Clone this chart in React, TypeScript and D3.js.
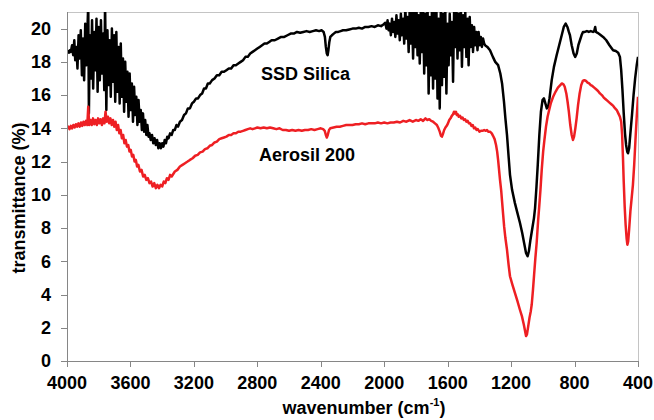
import React from "react";
import * as d3 from "d3";

// ---------- DATA ----------
const xTicks = [4000, 3600, 3200, 2800, 2400, 2000, 1600, 1200, 800, 400];
const yTicks = [0, 2, 4, 6, 8, 10, 12, 14, 16, 18, 20];
const seriesNames = ["SSD Silica", "Aerosil 200"];
const xTitle = "wavenumber (cm";
const yTitle = "transmittance (%)";

// SSD Silica: [wavenumber (cm-1), transmittance (%)]
const ssdSilica: [number, number][] = [
  [4000, 18.6], [3994, 18.65], [3988, 18.55], [3982, 18.7], [3976, 18.6],
  [3968, 19.0], [3961, 18.4], [3954, 19.3], [3948, 18.1], [3941, 18.9], [3934, 17.6],
  [3927, 19.6], [3920, 18.2], [3913, 19.9], [3906, 17.2], [3899, 19.4], [3892, 16.9],
  [3885, 20.3], [3878, 17.8], [3871, 20.0], [3866, 21.5], [3862, 14.9], [3856, 19.6],
  [3849, 17.0], [3842, 20.5], [3835, 16.4], [3828, 19.8], [3821, 17.5], [3814, 20.6],
  [3807, 16.2], [3800, 20.1], [3793, 16.9], [3786, 20.5], [3779, 17.3], [3772, 19.7],
  [3765, 16.3], [3760, 21.5], [3752, 15.1], [3745, 19.9], [3738, 16.6], [3731, 19.3],
  [3724, 15.9], [3717, 20.0], [3710, 16.8], [3703, 19.6], [3696, 15.6], [3689, 19.8],
  [3682, 16.2], [3675, 18.9], [3668, 15.5], [3661, 19.1], [3654, 15.9], [3647, 18.2],
  [3640, 15.0], [3633, 18.0], [3626, 15.6], [3619, 17.4], [3612, 14.7], [3605, 17.3],
  [3598, 15.1], [3591, 16.7], [3584, 14.4], [3577, 16.5], [3570, 14.8], [3563, 15.9],
  [3556, 14.2], [3549, 15.7], [3542, 14.4], [3535, 15.1], [3528, 13.9], [3521, 14.9],
  [3514, 13.8], [3507, 14.5], [3500, 13.6], [3493, 14.2], [3486, 13.5],
  [3480, 13.7], [3472, 13.3], [3464, 13.6], [3456, 13.1], [3448, 13.4], [3440, 13.0],
  [3432, 13.3], [3424, 12.8], [3416, 13.1], [3408, 12.8], [3400, 13.1], [3392, 12.9],
  [3384, 13.3], [3376, 13.1], [3368, 13.5], [3360, 13.4], [3350, 13.7], [3340, 13.6],
  [3330, 13.9], [3320, 13.9], [3310, 14.2], [3300, 14.1], [3288, 14.4], [3275, 14.5],
  [3262, 14.8], [3250, 14.9], [3238, 15.2], [3225, 15.2], [3212, 15.5], [3200, 15.6],
  [3186, 15.8], [3174, 15.8], [3161, 16.0], [3148, 16.1], [3136, 16.4], [3124, 16.4],
  [3112, 16.7], [3100, 16.7], [3085, 16.9], [3070, 17.0], [3055, 17.2], [3040, 17.2],
  [3025, 17.4], [3010, 17.4], [2995, 17.5], [2980, 17.6], [2965, 17.6], [2950, 17.8],
  [2935, 17.8], [2920, 17.9], [2905, 18.0], [2890, 18.1], [2875, 18.3], [2860, 18.3],
  [2845, 18.5], [2830, 18.6], [2815, 18.7], [2800, 18.8], [2785, 18.9], [2770, 19.0],
  [2755, 19.1], [2740, 19.1], [2725, 19.2], [2710, 19.3], [2690, 19.3], [2670, 19.4],
  [2650, 19.5], [2630, 19.5], [2610, 19.6], [2590, 19.7], [2570, 19.7], [2550, 19.8],
  [2530, 19.75], [2510, 19.8], [2490, 19.85], [2470, 19.8], [2450, 19.85], [2430, 19.9],
  [2410, 19.85], [2395, 19.9], [2382, 19.8], [2374, 19.5], [2368, 18.9], [2362, 18.5],
  [2357, 18.4], [2352, 18.7], [2346, 19.2], [2340, 19.5], [2330, 19.6], [2318, 19.7],
  [2305, 19.8], [2290, 19.8], [2275, 19.85], [2260, 19.9], [2240, 19.9], [2220, 19.95],
  [2200, 20.0], [2180, 20.0], [2160, 20.05], [2140, 20.0], [2120, 20.1], [2100, 20.1],
  [2080, 20.15], [2060, 20.1], [2040, 20.2], [2020, 20.15], [2005, 20.25],
  [1993, 20.35], [1986, 20.0], [1979, 20.5], [1972, 19.9], [1965, 20.3], [1958, 19.6],
  [1951, 20.6], [1944, 19.8], [1937, 20.4], [1930, 19.5], [1923, 20.8], [1916, 19.7],
  [1909, 20.5], [1902, 19.3], [1895, 20.9], [1888, 19.6], [1881, 20.6], [1874, 19.1],
  [1867, 21.3], [1860, 19.4], [1853, 20.7], [1846, 18.6], [1839, 21.4], [1832, 19.1],
  [1825, 21.0], [1818, 18.2], [1811, 21.3], [1804, 18.9], [1797, 21.4], [1790, 18.4],
  [1783, 20.8], [1776, 17.9], [1769, 21.3], [1762, 18.6], [1755, 21.4], [1748, 17.3],
  [1741, 20.9], [1734, 17.8], [1727, 21.5], [1720, 16.1], [1713, 20.7], [1706, 17.2],
  [1699, 21.3], [1692, 16.4], [1685, 21.0], [1678, 17.0], [1671, 21.2], [1664, 15.8],
  [1657, 20.6], [1650, 15.2], [1643, 21.3], [1636, 16.6], [1629, 20.9], [1622, 17.1],
  [1615, 21.2], [1608, 16.1], [1601, 20.3], [1594, 17.8], [1587, 20.9], [1580, 18.4],
  [1573, 20.4], [1566, 16.8], [1559, 21.3], [1552, 18.9], [1545, 21.4], [1538, 18.2],
  [1531, 20.9], [1524, 18.7], [1517, 21.3], [1510, 17.7], [1503, 20.8], [1496, 18.9],
  [1489, 21.0], [1482, 18.3], [1475, 20.6], [1468, 17.8], [1461, 20.7], [1454, 18.9],
  [1447, 20.2], [1440, 18.6], [1433, 20.1], [1426, 19.0], [1419, 19.8], [1412, 18.7],
  [1405, 19.8], [1398, 19.0], [1391, 19.5], [1384, 18.9], [1377, 19.4], [1370, 19.1],
  [1364, 19.0], [1350, 18.9], [1333, 18.7], [1315, 18.3], [1300, 18.0], [1282, 17.8],
  [1268, 17.3], [1257, 16.7], [1245, 15.6], [1236, 14.6], [1226, 13.6], [1215, 12.2],
  [1207, 11.2], [1194, 10.3], [1176, 9.5], [1160, 8.9], [1144, 8.3], [1130, 7.7],
  [1118, 7.1], [1106, 6.5], [1096, 6.3], [1088, 6.6], [1078, 7.3], [1066, 8.0],
  [1056, 8.6], [1049, 9.2], [1040, 10.5], [1032, 11.8], [1022, 13.6], [1012, 15.0],
  [1002, 15.7], [993, 15.8], [984, 15.5], [975, 15.2], [966, 15.3], [958, 15.8],
  [944, 16.9], [930, 17.7], [913, 18.4], [897, 19.0], [881, 19.6], [868, 20.1],
  [856, 20.3], [845, 20.1], [836, 19.8], [829, 19.6], [818, 19.0], [806, 18.5],
  [796, 18.3], [786, 18.5], [776, 19.0], [766, 19.3], [756, 19.6], [747, 19.8],
  [735, 19.8], [722, 19.85], [710, 19.8], [698, 19.85], [684, 19.8], [676, 19.85],
  [670, 20.1], [665, 19.8], [655, 19.75], [640, 19.65], [620, 19.5], [600, 19.3],
  [580, 19.0], [557, 18.7], [540, 18.65], [525, 18.55], [514, 18.3], [506, 17.5],
  [498, 16.3], [490, 14.9], [482, 13.7], [475, 13.0], [468, 12.6], [463, 12.5],
  [456, 12.8], [448, 13.7], [438, 14.8], [428, 16.0], [418, 17.0], [408, 17.8],
  [400, 18.3],
];

// Aerosil 200: [wavenumber (cm-1), transmittance (%)]
const aerosil200: [number, number][] = [
  [4000, 14.0], [3992, 14.1], [3984, 13.95], [3976, 14.15], [3968, 14.0], [3960, 14.2],
  [3952, 14.05], [3944, 14.25], [3936, 14.1], [3928, 14.3], [3920, 14.1], [3912, 14.35],
  [3904, 14.15], [3896, 14.4], [3888, 14.2], [3880, 14.45], [3872, 14.2], [3866, 15.3],
  [3860, 14.2], [3852, 14.5], [3844, 14.2], [3836, 14.6], [3828, 14.25], [3820, 14.5],
  [3812, 14.2], [3804, 14.6], [3796, 14.3], [3788, 14.55], [3780, 14.2], [3772, 14.6],
  [3764, 14.3], [3757, 15.0], [3750, 14.4], [3742, 14.7], [3734, 14.3], [3726, 14.6],
  [3718, 14.2], [3710, 14.5], [3702, 14.1], [3694, 14.4], [3686, 13.9], [3678, 14.2],
  [3670, 13.7], [3662, 13.9], [3654, 13.4], [3646, 13.6], [3638, 13.1], [3630, 13.3],
  [3622, 12.9], [3614, 13.0], [3606, 12.6], [3598, 12.7], [3590, 12.3], [3582, 12.4],
  [3574, 12.0], [3566, 12.1], [3558, 11.7], [3550, 11.8], [3540, 11.4], [3530, 11.5],
  [3520, 11.1], [3510, 11.2], [3500, 10.9], [3490, 11.0], [3480, 10.7], [3470, 10.8],
  [3460, 10.5], [3450, 10.7], [3440, 10.4], [3430, 10.6], [3420, 10.4], [3410, 10.6],
  [3400, 10.5], [3390, 10.8], [3380, 10.7], [3370, 11.0], [3360, 10.9], [3350, 11.2],
  [3340, 11.1], [3320, 11.4], [3304, 11.5], [3288, 11.7], [3272, 11.8], [3256, 11.9],
  [3240, 12.0], [3225, 12.1], [3208, 12.2], [3192, 12.35], [3176, 12.4], [3161, 12.55],
  [3145, 12.6], [3130, 12.75], [3115, 12.8], [3100, 12.95], [3085, 13.0], [3070, 13.15],
  [3055, 13.2], [3040, 13.35], [3025, 13.4], [3010, 13.45], [2995, 13.5], [2980, 13.6],
  [2965, 13.6], [2950, 13.7], [2935, 13.7], [2920, 13.8], [2905, 13.8], [2890, 13.85],
  [2875, 13.9], [2860, 13.95], [2845, 14.0], [2830, 13.95], [2815, 14.0], [2800, 14.05],
  [2780, 14.0], [2760, 14.05], [2740, 14.0], [2720, 14.05], [2700, 14.0], [2680, 13.95],
  [2660, 14.0], [2640, 13.9], [2620, 13.9], [2600, 13.85], [2580, 13.9], [2560, 13.85],
  [2540, 13.9], [2520, 13.85], [2500, 13.9], [2480, 13.9], [2460, 13.95], [2440, 13.9],
  [2420, 13.95], [2400, 14.0], [2385, 13.95], [2375, 13.85], [2368, 13.6], [2362, 13.45],
  [2356, 13.6], [2348, 13.9], [2340, 14.0], [2320, 14.05], [2300, 14.1], [2280, 14.1],
  [2260, 14.15], [2240, 14.2], [2220, 14.2], [2200, 14.2], [2180, 14.25], [2160, 14.25],
  [2140, 14.3], [2120, 14.25], [2100, 14.3], [2080, 14.3], [2060, 14.3], [2040, 14.35],
  [2020, 14.3], [2000, 14.35], [1980, 14.3], [1960, 14.35], [1940, 14.35], [1920, 14.4],
  [1900, 14.35], [1880, 14.45], [1860, 14.4], [1840, 14.5], [1820, 14.4], [1800, 14.5],
  [1785, 14.45], [1770, 14.55], [1755, 14.45], [1740, 14.6], [1728, 14.5], [1716, 14.55],
  [1704, 14.45], [1692, 14.4], [1680, 14.3], [1668, 14.2], [1658, 14.0], [1650, 13.8],
  [1642, 13.55], [1636, 13.5], [1630, 13.65], [1622, 13.9], [1614, 14.05], [1606, 14.15],
  [1598, 14.3], [1590, 14.5], [1582, 14.6], [1574, 14.75], [1566, 14.85], [1560, 15.0],
  [1554, 14.9], [1548, 15.0], [1542, 14.8], [1536, 14.85], [1530, 14.7], [1522, 14.75],
  [1514, 14.6], [1506, 14.65], [1498, 14.5], [1490, 14.55], [1482, 14.4], [1474, 14.45],
  [1466, 14.3], [1458, 14.3], [1450, 14.15], [1442, 14.2], [1434, 14.0], [1426, 14.05],
  [1418, 13.9], [1410, 13.95], [1400, 13.8], [1390, 13.85], [1380, 13.85], [1370, 13.9],
  [1360, 13.85], [1352, 13.9], [1344, 13.8], [1333, 13.8], [1322, 13.7], [1314, 13.55],
  [1304, 13.35], [1295, 13.0], [1288, 12.6], [1282, 12.1], [1276, 11.5], [1270, 10.9],
  [1262, 10.2], [1257, 9.6], [1251, 8.9], [1244, 8.1], [1236, 7.4], [1226, 6.7],
  [1216, 5.8], [1207, 5.1], [1192, 4.6], [1176, 4.1], [1160, 3.6], [1145, 3.1],
  [1132, 2.7], [1120, 2.2], [1112, 1.8], [1106, 1.5], [1100, 1.6], [1092, 2.1],
  [1084, 2.6], [1076, 3.0], [1070, 3.4], [1062, 4.3], [1055, 5.2], [1047, 6.2],
  [1039, 7.1], [1030, 8.4], [1022, 9.4], [1015, 10.3], [1007, 11.5], [998, 12.6],
  [990, 13.3], [980, 14.1], [970, 14.7], [960, 15.1], [950, 15.5], [935, 15.9],
  [920, 16.2], [905, 16.45], [890, 16.6], [880, 16.7], [870, 16.65], [862, 16.5],
  [852, 16.1], [844, 15.6], [836, 15.0], [827, 14.2], [818, 13.6], [810, 13.3],
  [803, 13.5], [795, 14.0], [787, 14.6], [778, 15.4], [768, 16.1], [758, 16.6],
  [748, 16.85], [738, 16.9], [728, 16.85], [718, 16.75], [708, 16.7], [698, 16.6],
  [688, 16.55], [676, 16.45], [664, 16.35], [652, 16.25], [640, 16.1], [628, 16.0],
  [616, 15.85], [604, 15.75], [592, 15.65], [580, 15.55], [568, 15.45], [556, 15.35],
  [544, 15.2], [534, 15.1], [524, 14.9], [514, 14.7], [506, 14.4], [500, 13.6],
  [495, 12.3], [490, 10.8], [484, 9.3], [478, 8.2], [472, 7.4], [467, 7.0],
  [462, 7.2], [456, 7.9], [448, 9.0], [440, 9.8], [432, 10.6], [424, 11.8],
  [416, 13.3], [408, 14.7], [400, 15.9],
];

const seriesColors = ["#000000", "#ee1f23"];

// ---------- CHART ----------
const W = 654;
const H = 420;
const M = { left: 67, right: 16, top: 12, bottom: 59 };
const FONT = "'Liberation Sans', Arial, Helvetica, sans-serif";

export default function App() {
  const x = d3.scaleLinear().domain([4000, 400]).range([M.left, W - M.right]);
  const y = d3.scaleLinear().domain([0, 21]).range([H - M.bottom, M.top]);
  const line = d3
    .line<[number, number]>()
    .x((d) => x(d[0]))
    .y((d) => y(d[1]));

  const x0 = M.left;
  const x1 = W - M.right;
  const y0 = H - M.bottom;
  const y1 = M.top;
  const axisColor = "#868686";
  const frameColor = "#c4c4c4";

  const series = [ssdSilica, aerosil200];

  return (
    <div style={{ position: "absolute", left: 0, top: 0 }}>
      <svg width={W} height={H} style={{ display: "block", background: "#fff" }}>
        <defs>
          <clipPath id="plotClip">
            <rect x={x0} y={y1} width={x1 - x0} height={y0 - y1} />
          </clipPath>
        </defs>
        {/* frame */}
        <line x1={x0} x2={x1} y1={y1 + 0.5} y2={y1 + 0.5} stroke={frameColor} strokeWidth={1} />
        <line x1={x1 + 0.5} x2={x1 + 0.5} y1={y1} y2={y0} stroke={frameColor} strokeWidth={1} />

        {/* series */}
        <g clipPath="url(#plotClip)">
          {series.map((s, i) => (
            <path
              key={seriesNames[i]}
              d={line(s) || ""}
              fill="none"
              stroke={seriesColors[i]}
              strokeWidth={2.5}
              strokeLinejoin="round"
            />
          ))}
        </g>

        {/* axes */}
        <line x1={x0 + 0.5} x2={x0 + 0.5} y1={y1} y2={y0} stroke={axisColor} strokeWidth={1} />
        <line x1={x0} x2={x1 + 1} y1={y0 + 0.5} y2={y0 + 0.5} stroke={axisColor} strokeWidth={1} />
        {yTicks.map((t) => (
          <g key={"y" + t}>
            <line x1={x0 - 6} x2={x0} y1={Math.round(y(t)) + 0.5} y2={Math.round(y(t)) + 0.5} stroke={axisColor} />
            <text
              x={x0 - 16}
              y={y(t)}
              dy="0.35em"
              textAnchor="end"
              fontFamily={FONT}
              fontWeight="bold"
              fontSize={18}
              fill="#000"
            >
              {t}
            </text>
          </g>
        ))}
        {xTicks.map((t) => (
          <g key={"x" + t}>
            <line x1={Math.round(x(t)) + 0.5} x2={Math.round(x(t)) + 0.5} y1={y0} y2={y0 + 6} stroke={axisColor} />
            <text
              x={x(t)}
              y={389}
              textAnchor="middle"
              fontFamily={FONT}
              fontWeight="bold"
              fontSize={18}
              fill="#000"
            >
              {t}
            </text>
          </g>
        ))}

        {/* axis titles */}
        <text
          x={364}
          y={414}
          textAnchor="middle"
          fontFamily={FONT}
          fontWeight="bold"
          fontSize={18}
          fill="#000"
        >
          {xTitle}
          <tspan fontSize={11} dy={-8}>-1</tspan>
          <tspan dy={8}>)</tspan>
        </text>
        <text
          transform={`translate(25,198) rotate(-90)`}
          textAnchor="middle"
          fontFamily={FONT}
          fontWeight="bold"
          fontSize={18}
          fill="#000"
        >
          {yTitle}
        </text>

        {/* series labels */}
        <text x={x(2777)} y={y(16.9)} fontFamily={FONT} fontWeight="bold" fontSize={18} fill="#000">
          {seriesNames[0]}
        </text>
        <text x={x(2790)} y={y(12.05)} fontFamily={FONT} fontWeight="bold" fontSize={18} fill="#000">
          {seriesNames[1]}
        </text>
      </svg>
    </div>
  );
}
